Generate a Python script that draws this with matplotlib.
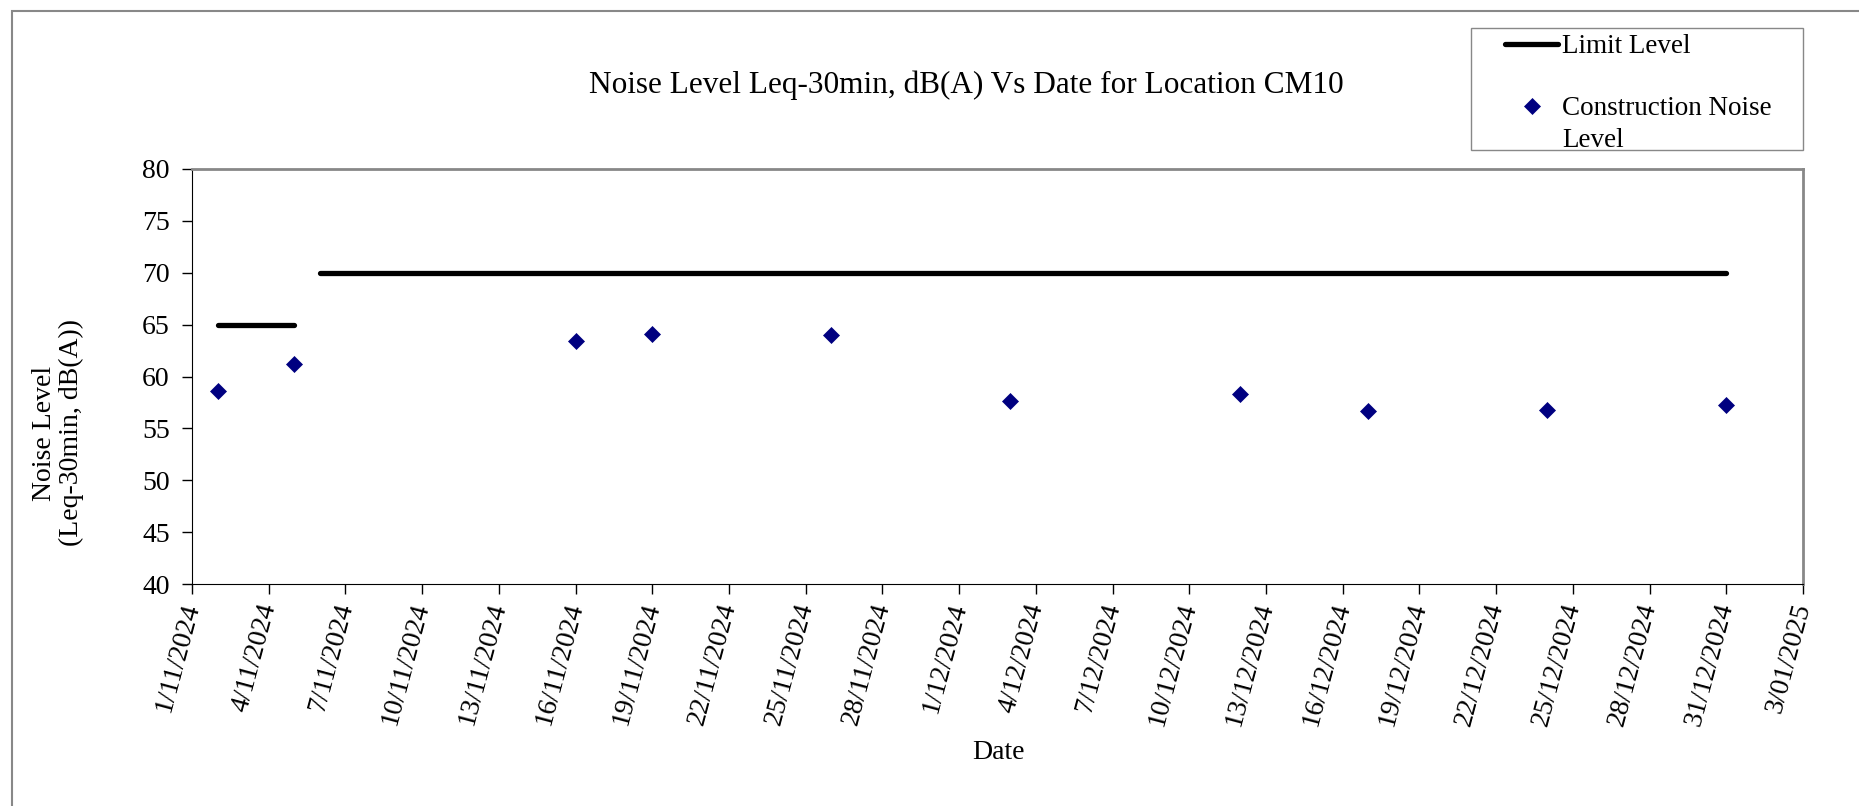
import matplotlib
matplotlib.use("Agg")
import matplotlib.pyplot as plt
import matplotlib.dates as mdates
from matplotlib.patches import Rectangle
from matplotlib.lines import Line2D
import numpy as np
import datetime as dt

plt.rcParams['font.family'] = ['Liberation Serif', 'DejaVu Serif']

# chart data
noise_dates = ['2024-11-02', '2024-11-05', '2024-11-16', '2024-11-19', '2024-11-26',
               '2024-12-03', '2024-12-12', '2024-12-17', '2024-12-24', '2024-12-31']
noise_levels = [58.6, 61.2, 63.4, 64.1, 64.0, 57.6, 58.3, 56.7, 56.8, 57.3]

# limit level, two stretches (gap between 5/11 and 6/11)
limit_dates = ['2024-11-02', '2024-11-05', '2024-11-05', '2024-11-06', '2024-12-31']
limit_levels = [65, 65, np.nan, 70, 70]

x_start = dt.date(2024, 11, 1)
x_end = dt.date(2025, 1, 3)
tick_step_days = 3
y_ticks = [40, 45, 50, 55, 60, 65, 70, 75, 80]

title = 'Noise Level Leq-30min, dB(A) Vs Date for Location CM10'
y_label = 'Noise Level\n(Leq-30min, dB(A))'
x_label = 'Date'

W, H = 1859, 806
fig = plt.figure(figsize=(W / 100, H / 100), dpi=100)


def fx(px):
    return px / W


def fy(py):
    return 1 - py / H


ax = fig.add_axes([fx(192), fy(584), fx(1803) - fx(192), fy(169) - fy(584)])

nd = [dt.datetime.strptime(d, '%Y-%m-%d') for d in noise_dates]
ld = [dt.datetime.strptime(d, '%Y-%m-%d') for d in limit_dates]

ax.plot(ld, limit_levels, color='black', lw=3.8, solid_capstyle='round', zorder=2)
ax.plot(nd, noise_levels, ls='none', marker='D', ms=8.5, color='#000080',
        mec='#000080', mew=0.5, zorder=3)

ax.set_xlim(mdates.date2num(x_start), mdates.date2num(x_end))
ax.set_ylim(40, 80)
ax.set_yticks(y_ticks)

ticks = [x_start + dt.timedelta(days=i) for i in range(0, (x_end - x_start).days + 1, tick_step_days)]
ax.set_xticks(mdates.date2num(ticks))
ax.set_xticklabels(['{0}/{1:02d}/{2}'.format(t.day, t.month, t.year) for t in ticks],
                   rotation=75, ha='right', va='center', rotation_mode='anchor')

ax.tick_params(axis='both', direction='out', length=7, width=1, color='black',
               labelsize=20)
ax.tick_params(axis='y', pad=9)
ax.tick_params(axis='x', pad=7)

ax.spines['left'].set_color('black')
ax.spines['bottom'].set_color('black')
ax.spines['top'].set_color('#888888')
ax.spines['right'].set_color('#888888')
for s in ['top', 'right']:
    ax.spines[s].set_linewidth(2)

# texts
fig.text(fx(966), fy(93), title, ha='center', va='baseline', fontsize=22.5)
fig.text(fx(58), fy(433), y_label, rotation=90, ha='center', va='center',
         multialignment='center', fontsize=20, linespacing=1.1)
fig.text(fx(998), fy(759), x_label, ha='center', va='baseline', fontsize=20)

# outer chart border
fig.add_artist(Rectangle((fx(12), fy(900)), fx(2000), fy(11) - fy(900),
                         transform=fig.transFigure, fill=False,
                         edgecolor='#888888', lw=1.5))

# legend box
fig.add_artist(Rectangle((fx(1471), fy(150)), fx(1803) - fx(1471), fy(28) - fy(150),
                         transform=fig.transFigure, fill=False,
                         edgecolor='#888888', lw=1))
fig.add_artist(Line2D([fx(1505), fx(1558)], [fy(44), fy(44)], transform=fig.transFigure,
                      color='black', lw=3.8, solid_capstyle='round'))
fig.text(fx(1562), fy(53), 'Limit Level', ha='left', va='baseline', fontsize=19.5)
fig.add_artist(Line2D([fx(1532)], [fy(106)], transform=fig.transFigure, ls='none',
                      marker='D', ms=8.5, color='#000080', mec='#000080', mew=0.5))
fig.text(fx(1562), fy(115), 'Construction Noise', ha='left', va='baseline', fontsize=19.5)
fig.text(fx(1562), fy(147), 'Level', ha='left', va='baseline', fontsize=19.5)

fig.savefig('out.png', dpi=100)
